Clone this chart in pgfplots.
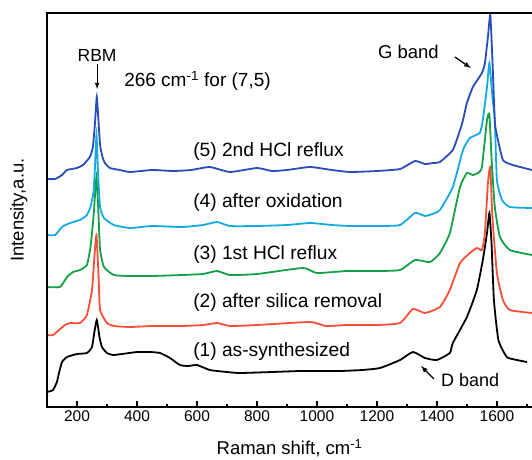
\documentclass[border=0pt]{standalone}
\usepackage{fontspec}
\setmainfont{Liberation Sans}
\usepackage{pgfplots}
\pgfplotsset{compat=1.18}
\usepackage{pgfplotstable}
\definecolor{cblue}{RGB}{40,76,185}
\definecolor{ccyan}{RGB}{20,170,225}
\definecolor{cgreen}{RGB}{20,160,70}
\definecolor{cred}{RGB}{245,80,55}

\pgfplotstableread{
x y
100 228
127 228
150 232
167 237
200 239
220 242
243 250
253 260
260 284
266 310
272 284
277 262
285 250
293 244
310 239
343 237
377 235
450 237
520 236
580 237
643 240
710 235
800 239
850 236
900 237
977 240
1050 237
1110 235
1200 236
1277 238
1327 246
1360 243
1387 244
1410 245
1453 257
1477 277
1487 287
1500 304
1520 320
1550 334
1560 344
1570 370
1578 392
1586 340
1593 285
1600 272
1620 247
1653 242
1717 237
}\sfive

\pgfplotstableread{
x y
100 172
127 172
150 180
177 184
210 187
233 192
245 200
255 215
260 240
265 272
270 235
277 200
290 189
323 182
377 179
450 181
550 180
620 182
667 185
710 181
800 181
900 182
977 184
1050 182
1110 181
1200 181
1277 182
1327 194
1360 191
1385 193
1410 197
1453 220
1487 257
1510 269
1543 274
1553 287
1567 320
1575 344
1585 310
1593 287
1600 227
1617 207
1643 200
1717 199
}\sfour

\pgfplotstableread{
x y
100 120
143 120
167 130
187 135
210 137
233 142
245 160
255 190
265 230
272 190
277 157
290 140
323 132
377 131
450 131
550 132
620 133
667 136
710 132
800 133
953 139
1000 134
1100 136
1200 136
1277 137
1327 147
1377 145
1410 154
1443 174
1477 220
1500 234
1520 232
1537 234
1550 240
1567 287
1575 292
1583 244
1593 200
1610 170
1643 157
1717 152
}\sthree

\pgfplotstableread{
x y
100 72
120 72
140 77
160 82
177 84
210 84
233 92
250 117
258 150
265 172
272 130
277 97
300 84
323 81
377 80
450 81
550 81
620 82
667 84
710 81
800 82
977 85
1030 81
1100 82
1200 82
1277 84
1320 98
1360 94
1410 100
1443 117
1477 144
1510 154
1533 159
1550 157
1560 174
1570 224
1578 240
1585 190
1600 134
1620 107
1643 97
1717 94
}\stwo

\pgfplotstableread{
x y
100 15
120 17
133 25
140 34
150 45
167 50
200 53
233 54
250 60
258 75
266 87
275 70
283 60
300 54
320 52
350 53
400 55
443 55
477 54
510 49
543 42
570 41
600 42
643 37
700 35
743 34
850 35
943 36
1000 36
1077 36
1150 37
1210 39
1277 47
1320 55
1360 49
1400 47
1443 54
1453 64
1500 90
1533 117
1553 147
1567 174
1575 194
1582 164
1590 107
1605 67
1633 50
1667 47
1700 45
}\sone

\begin{document}
\begin{tikzpicture}
\begin{axis}[
  scale only axis,
  width=485pt, height=394pt,
  xmin=100, xmax=1717, ymin=0, ymax=394,
  axis x line*=box, axis y line*=left,
  axis line style={draw=none},
  xtick={200,400,...,1600},
  minor xtick={300,500,...,1700},
  xtick pos=left,
  ytick=\empty,
  tick align=inside,
  major tick length=6pt, minor tick length=3.5pt,
  every tick/.style={line width=1.4pt, black},
  /pgf/number format/assume math mode=true,
  /pgf/number format/1000 sep={},
  xticklabel style={font=\fontsize{15.5}{17}\selectfont},
  xlabel={Raman shift, cm\textsuperscript{-1}},
  ylabel={Intensity,a.u.},
  every axis x label/.style={at={(axis description cs:0.5,-0.104)}, anchor=center, font=\fontsize{18.5}{20}\selectfont},
  every axis y label/.style={at={(axis description cs:-0.058,0.5)}, rotate=90, anchor=center, font=\fontsize{18.5}{20}\selectfont},
  clip=false,
  every axis plot/.append style={smooth, tension=0.3, line width=1.8pt},
]
\addplot[black] table[x=x,y=y] {\sone};
\addplot[cred] table[x=x,y=y] {\stwo};
\addplot[cgreen] table[x=x,y=y] {\sthree};
\addplot[ccyan] table[x=x,y=y] {\sfour};
\addplot[cblue] table[x=x,y=y] {\sfive};

\draw[line width=2.6pt, line cap=rect] (rel axis cs:1.02,0) -- (rel axis cs:0,0) -- (rel axis cs:0,1) -- (rel axis cs:1.02,1);

\node[font=\fontsize{17.5}{19}\selectfont] at (axis cs:267,352) {RBM};
\draw[-latex, line width=1.1pt] (axis cs:267,343) -- (axis cs:267,318);
\node[anchor=west, inner sep=0pt, font=\fontsize{19}{21}\selectfont] at (axis cs:357,326) {266 cm\textsuperscript{-1} for (7,5)};
\node[anchor=west, inner sep=0pt, font=\fontsize{19.2}{21}\selectfont] at (axis cs:587,255) {(5) 2nd HCl reflux};
\node[anchor=west, inner sep=0pt, font=\fontsize{19.2}{21}\selectfont] at (axis cs:587,204) {(4) after oxidation};
\node[anchor=west, inner sep=0pt, font=\fontsize{19.2}{21}\selectfont] at (axis cs:587,152) {(3) 1st HCl reflux};
\node[anchor=west, inner sep=0pt, font=\fontsize{19.2}{21}\selectfont] at (axis cs:587,104) {(2) after silica removal};
\node[anchor=west, inner sep=0pt, font=\fontsize{19.2}{21}\selectfont] at (axis cs:587,55) {(1) as-synthesized};
\node[anchor=west, inner sep=0pt, font=\fontsize{18.5}{20}\selectfont] at (axis cs:1203,355) {G band};
\draw[-latex, line width=1.3pt] (axis cs:1460,350) -- (axis cs:1513,339);
\node[anchor=west, inner sep=0pt, font=\fontsize{18}{20}\selectfont] at (axis cs:1413,27) {D band};
\draw[-latex, line width=1.3pt] (axis cs:1390,28) -- (axis cs:1347,41);
\end{axis}
\pgfresetboundingbox
\path[use as bounding box] (-47pt,-52pt) rectangle (485pt,407pt);
\end{tikzpicture}
\end{document}
